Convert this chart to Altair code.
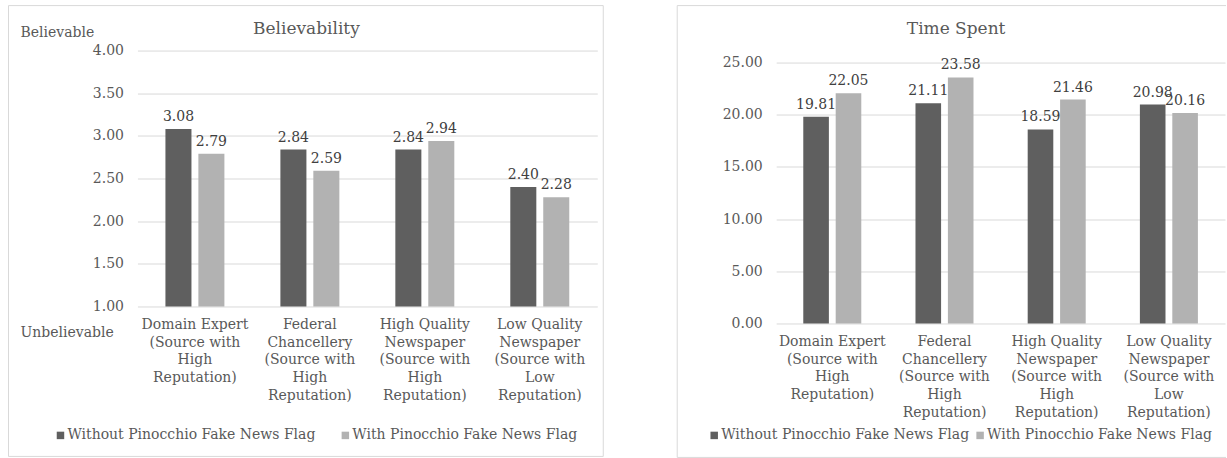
import altair as alt
import pandas as pd

FONT = "DejaVu Serif"
TXT = "#595959"
LBL = "#404040"
GRID = "#d9d9d9"

categories = [
    "Domain Expert|(Source with|High|Reputation)",
    "Federal|Chancellery|(Source with|High|Reputation)",
    "High Quality|Newspaper|(Source with|High|Reputation)",
    "Low Quality|Newspaper|(Source with|Low|Reputation)",
]
series = ["Without Pinocchio Fake News Flag", "With Pinocchio Fake News Flag"]
believability_without = [3.08, 2.84, 2.84, 2.40]
believability_with = [2.79, 2.59, 2.94, 2.28]
time_without = [19.81, 21.11, 18.59, 20.98]
time_with = [22.05, 23.58, 21.46, 20.16]
believability_ticks = [1.0, 1.5, 2.0, 2.5, 3.0, 3.5, 4.0]
time_ticks = [0, 5, 10, 15, 20, 25]
colors = ["#5f5f5f", "#b2b2b2"]
titles = ["Believability", "Time Spent"]
scale_ends = ["Believable", "Unbelievable"]


def long_df(a, b):
    rows = []
    for c, va, vb in zip(categories, a, b):
        rows.append({"category": c, "series": series[0], "value": va})
        rows.append({"category": c, "series": series[1], "value": vb})
    return pd.DataFrame(rows)


one = pd.DataFrame({"k": [0]})


def panel(df, title, domain, base_val, ticks, pad_inner,
          legend_x, col_pad, title_x):
    x = alt.X(
        "category:N", sort=categories,
        scale=alt.Scale(paddingInner=pad_inner, paddingOuter=pad_inner / 2),
        axis=alt.Axis(title=None, labelExpr="split(datum.label, '|')",
                      labelAngle=0, domain=False, ticks=False, labelPadding=11,
                      labelFont=FONT, labelFontSize=14, labelColor=TXT,
                      labelLineHeight=17.7, labelLimit=300),
    )
    xo = alt.XOffset("series:N", sort=series, scale=alt.Scale(paddingInner=0.21))
    y = alt.Y(
        "value:Q",
        scale=alt.Scale(domain=domain, nice=False, zero=False),
        axis=alt.Axis(title=None, values=ticks, format=".2f", domain=False,
                      ticks=False, labelPadding=14, labelFont=FONT,
                      labelFontSize=14, labelColor=TXT, gridColor=GRID,
                      gridWidth=1),
    )
    color = alt.Color(
        "series:N", sort=series,
        scale=alt.Scale(domain=series, range=colors),
        legend=alt.Legend(title=None, orient="none", direction="horizontal",
                          legendX=legend_x, legendY=378, symbolType="square",
                          symbolSize=56, symbolStrokeWidth=0, symbolOpacity=1,
                          labelFont=FONT, labelFontSize=14, labelColor=TXT,
                          labelOffset=0, columnPadding=col_pad, padding=0,
                          labelLimit=400),
    )
    bars = alt.Chart(df).mark_bar().encode(
        x=x, xOffset=xo, y=y, y2=alt.datum(base_val), color=color)
    labels = alt.Chart(df).mark_text(
        baseline="bottom", dy=-5, font=FONT, fontSize=14, color=LBL
    ).encode(x=x, xOffset=xo, y="value:Q",
             text=alt.Text("value:Q", format=".2f"))
    ttl = alt.Chart(one).mark_text(
        text=title, font=FONT, fontSize=17, color=TXT, align="center",
        baseline="middle").encode(x=alt.value(title_x), y=alt.value(-22))
    return [bars, labels, ttl]


left_layers = panel(long_df(believability_without, believability_with),
                    titles[0], [1, 4], 1, believability_ticks,
                    0.487, -84, 22, 169)
left_frame = alt.Chart(one).mark_rect(
    fillOpacity=0, stroke=GRID, strokeWidth=1
).encode(x=alt.value(-129), x2=alt.value(466), y=alt.value(-45),
         y2=alt.value(406))
top_word = alt.Chart(one).mark_text(
    text=scale_ends[0], font=FONT, fontSize=14, color=TXT, align="left",
    baseline="middle").encode(x=alt.value(-117), y=alt.value(-18))
bottom_word = alt.Chart(one).mark_text(
    text=scale_ends[1], font=FONT, fontSize=14, color=TXT, align="left",
    baseline="middle").encode(x=alt.value(-117), y=alt.value(283))
left = alt.layer(left_frame, *left_layers, top_word, bottom_word).properties(
    width=460, height=256)

right_layers = panel(long_df(time_without, time_with), titles[1],
                     [0, 26.15], 0, time_ticks, 0.483, -69, 3, 180)
rt = alt.Chart(one).mark_rule(color=GRID, strokeWidth=1).encode(
    x=alt.value(-99), x2=alt.value(450), y=alt.value(-45))
rl = alt.Chart(one).mark_rule(color=GRID, strokeWidth=1).encode(
    x=alt.value(-99), y=alt.value(-45), y2=alt.value(407))
rb = alt.Chart(one).mark_rule(color=GRID, strokeWidth=1).encode(
    x=alt.value(-99), x2=alt.value(450), y=alt.value(407))
right = alt.layer(rt, rl, rb, *right_layers).properties(width=449, height=273)

chart = alt.hconcat(left, right, spacing=179, bounds="flush").resolve_scale(
    color="independent", xOffset="independent"
).resolve_legend(color="independent").properties(
    padding={"left": 7.5, "top": 4.5, "right": 0, "bottom": 0}
).configure_view(stroke=None)

chart.save("out.html", embed_options={"renderer": "svg", "actions": False})
